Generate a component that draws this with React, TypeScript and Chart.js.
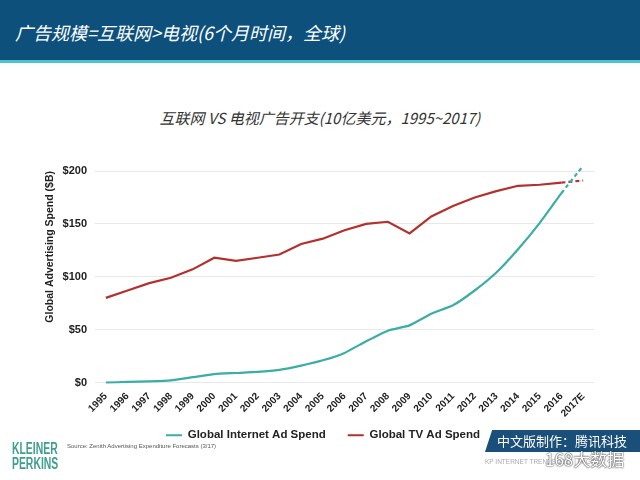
import React, { useEffect, useRef } from "react";
import { Chart, registerables } from "chart.js";
Chart.register(...registerables);

const years = ["1995","1996","1997","1998","1999","2000","2001","2002","2003","2004","2005","2006","2007","2008","2009","2010","2011","2012","2013","2014","2015","2016","2017E"];
const internetSpend = [0,0.5,1,2,5,8,9,10,12,16,21,28,39,49,54,65,73,87,104,126,151,179,205];
const tvSpend = [80,87,94,99,107,118,115,118,121,131,136,144,150,152,141,157,167,175,181,186,187,189,191];
const yTicks = [0,50,100,150,200];

const TEAL = "#3aaea5";
const RED = "#b3302d";
const FONT = "'Liberation Sans', Arial, sans-serif";

const legendShift = {
  id: "legendShift",
  afterLayout(chart: any) {
    const lg = chart.legend;
    if (lg) {
      lg.top -= 13;
      lg.bottom -= 13;
      lg.left += 6;
      lg.right += 6;
    }
  },
};

export default function App() {
  const ref = useRef<HTMLCanvasElement>(null);
  useEffect(() => {
    document.body.style.margin = "0";
    const last = years.length - 1;
    const dash = (c: any) => (c.p1DataIndex === last ? [4, 3] : undefined);
    const chart = new Chart(ref.current!, {
      type: "line",
      plugins: [legendShift],
      data: {
        labels: years,
        datasets: [
          {
            label: "Global Internet Ad Spend",
            data: internetSpend,
            borderColor: TEAL,
            backgroundColor: TEAL,
            borderWidth: 2.2,
            pointRadius: 0,
            tension: 0.15,
            clip: false as any,
            segment: { borderDash: dash },
          },
          {
            label: "Global TV Ad Spend",
            data: tvSpend,
            borderColor: RED,
            backgroundColor: RED,
            borderWidth: 2.2,
            pointRadius: 0,
            tension: 0,
            clip: false as any,
            segment: { borderDash: dash },
          },
        ],
      },
      options: {
        animation: false,
        responsive: true,
        maintainAspectRatio: false,
        layout: { padding: { left: 40, right: 46, top: 21, bottom: 0 } },
        plugins: {
          tooltip: { enabled: false },
          legend: {
            position: "bottom",
            labels: {
              usePointStyle: true,
              pointStyle: "line",
              pointStyleWidth: 16,
              padding: 22,
              color: "#222",
              font: { family: FONT, size: 11.5, weight: "bold" },
            },
          },
        },
        scales: {
          x: {
            type: "category",
            offset: true,
            grid: { display: false },
            border: { display: false },
            afterFit: (axis: any) => { axis.height = 38; },
            ticks: {
              autoSkip: false,
              minRotation: 45,
              maxRotation: 45,
              padding: 0,
              color: "#222",
              font: { family: FONT, size: 10, weight: "bold" },
            },
          },
          y: {
            min: 0,
            max: 200,
            afterBuildTicks: (axis: any) => { axis.ticks = yTicks.map((v) => ({ value: v })); },
            afterFit: (axis: any) => { axis.width = 55; },
            grid: { color: "#e8e8e8", drawTicks: false },
            border: { display: false },
            ticks: {
              padding: 8,
              color: "#222",
              font: { family: FONT, size: 11, weight: "bold" },
              callback: (v: any) => "$" + v,
            },
            title: {
              display: true,
              text: "Global Advertising Spend ($B)",
              align: "end",
              color: "#222",
              padding: { top: 4, bottom: 4 },
              font: { family: FONT, size: 10.5, weight: "bold" },
            },
          },
        },
      },
    });
    return () => chart.destroy();
  }, []);

  return (
    <div style={{ position: "fixed", left: 0, top: 0, width: 640, height: 480, background: "#fff", overflow: "hidden", fontFamily: FONT }}>
      <div style={{ position: "absolute", left: 0, top: 0, width: 640, height: 60, background: "#0d507c", borderBottom: "3px solid #4cc3cc" }} />
      <div style={{ position: "absolute", left: 15, top: 18, color: "#fff", fontSize: 18, fontStyle: "italic", fontFamily: "'Noto Sans CJK SC', sans-serif", whiteSpace: "nowrap", lineHeight: "28px" }}>
        广告规模=互联网&gt;电视(6个月时间，全球)
      </div>
      <div style={{ position: "absolute", left: 0, width: 640, top: 107, textAlign: "center", color: "#333", fontSize: 15, fontStyle: "italic", fontFamily: "'Noto Sans CJK SC', sans-serif", lineHeight: "22px" }}>
        互联网 VS 电视广告开支(10亿美元，1995~2017)
      </div>
      <div style={{ position: "absolute", left: 0, top: 150, width: 640, height: 314 }}>
        <canvas ref={ref} />
      </div>
      <div style={{ position: "absolute", left: 12, top: 441, color: "#3f9f8e", fontWeight: "bold", fontSize: 16, lineHeight: "15px", transform: "scaleX(0.65)", transformOrigin: "left top" }}>
        KLEINER<br />PERKINS
      </div>
      <div style={{ position: "absolute", left: 67, top: 443, color: "#555", fontSize: 6, whiteSpace: "nowrap" }}>
        Source: Zenith Advertising Expenditure Forecasts (3/17)
      </div>
      <div style={{ position: "absolute", left: 485, top: 430, width: 170, height: 22, background: "#1a4f79", transform: "skewX(-18deg)", transformOrigin: "left bottom" }} />
      <div style={{ position: "absolute", left: 497, top: 432, color: "#fff", fontSize: 13, fontFamily: "'Noto Sans CJK SC', sans-serif", lineHeight: "18px", whiteSpace: "nowrap" }}>
        中文版制作：腾讯科技
      </div>
      <div style={{ position: "absolute", left: 485, top: 458, color: "#aaa", fontSize: 6.5, whiteSpace: "nowrap" }}>
        KP INTERNET TRENDS 2017 | PAGE 14
      </div>
      <div style={{ position: "absolute", left: 545, top: 446, color: "#fff", fontSize: 17, fontFamily: "'Noto Sans CJK SC', sans-serif", whiteSpace: "nowrap", textShadow: "0 0 2px #333, 0 0 1px #333" }}>
        168大数据
      </div>
    </div>
  );
}
